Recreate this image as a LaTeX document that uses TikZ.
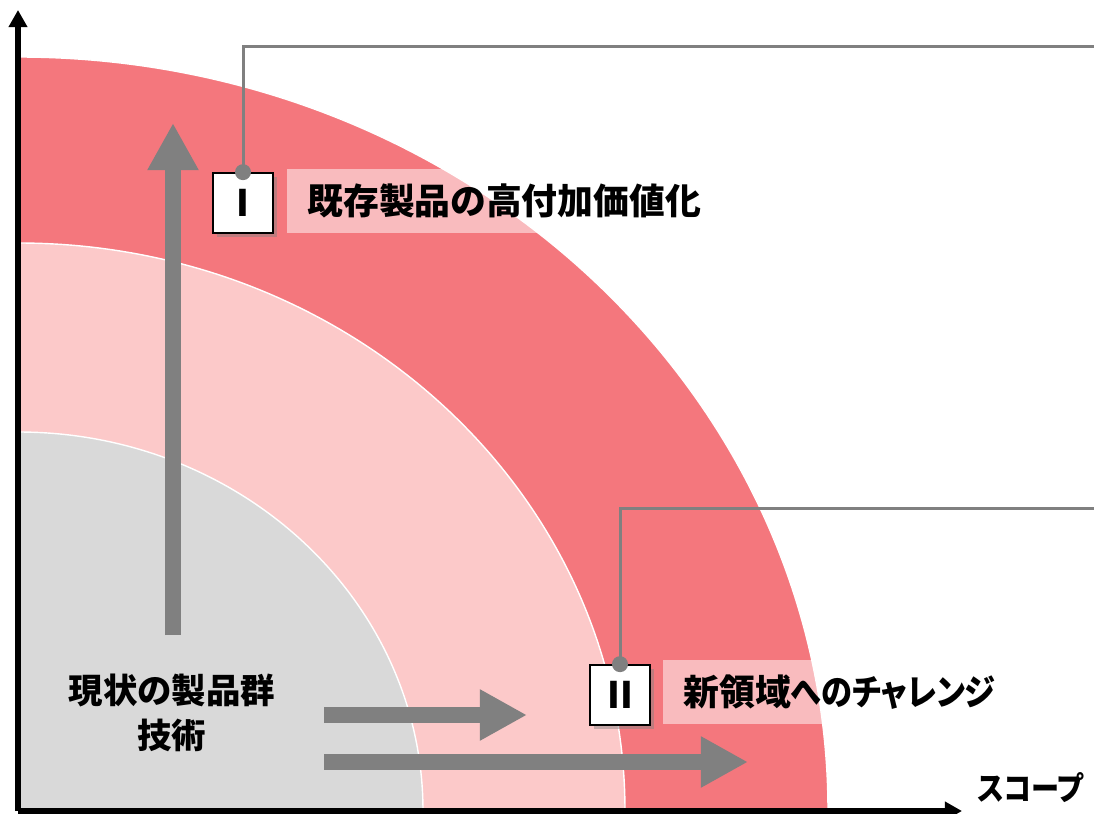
\documentclass[tikz,border=0pt]{standalone}
\usepackage{fontspec}
\setmainfont{Noto Sans CJK JP}[RawFeature=+palt]
\newfontfamily\kanafont{Noto Sans CJK JP}[RawFeature=+palt,FakeStretch=0.87]
\usetikzlibrary{arrows.meta}
\usetikzlibrary{shadows}
\definecolor{ringred}{RGB}{244,119,125}
\definecolor{ringpink}{RGB}{252,201,201}
\definecolor{coregray}{RGB}{217,217,217}
\definecolor{arrgray}{RGB}{128,128,128}

\begin{document}
\begin{tikzpicture}[x=0.025cm,y=-0.025cm,
    ring/.style={draw=white,line width=1pt},
    axis/.style={line width=0.15cm,-{Triangle[length=0.43cm,width=0.45cm]}},
    big arrow/.style={draw=arrgray,line width=0.38cm,-{Triangle[length=1.18cm,width=1.2cm]}},
    num box/.style={draw=black,line width=1.2pt,fill=white,minimum size=1.5cm,inner sep=0pt,
      drop shadow={shadow xshift=0.1cm,shadow yshift=-0.1cm,opacity=0.45},font=\bfseries\fontsize{26}{26}\selectfont},
    leader/.style={draw=arrgray,line width=0.075cm},
    label node/.style={fill=white,fill opacity=0.5,text opacity=1,anchor=west,inner xsep=0.5cm,inner ysep=0pt,
      minimum height=1.6cm,font=\bfseries\fontsize{25.5}{25.5}\selectfont}]
  \useasboundingbox (0,0) rectangle (1094,814);
  \coordinate (o) at (18,811);
  % rings
  \begin{scope}
    \clip (18,0) rectangle (1094,811);
    \filldraw[ring,fill=ringred] (o) ellipse [x radius=810,y radius=754];
    \filldraw[ring,fill=ringpink] (o) ellipse [x radius=607,y radius=568];
    \filldraw[ring,fill=coregray] (o) ellipse [x radius=405,y radius=379];
  \end{scope}
  % axes
  \coordinate (ytop) at (18,10);
  \coordinate (xend) at (962,811);
  \draw[axis] (o) -- (ytop);
  \draw[axis] (o) -- (xend);
  % growth arrows
  \coordinate (vs) at (173,635);
  \coordinate (vt) at (173,123);
  \coordinate (h1s) at (324,715);
  \coordinate (h1t) at (527,715);
  \coordinate (h2s) at (324,762);
  \coordinate (h2t) at (748,762);
  \draw[big arrow] (vs) -- (vt);
  \draw[big arrow] (h1s) -- (h1t);
  \draw[big arrow] (h2s) -- (h2t);
  % callouts
  \coordinate (eI) at (1094,47);
  \coordinate (eII) at (1094,508);
  \node[num box] (bI) at (243,203) {I};
  \node[num box] (bII) at (620,695) {II};
  \draw[leader] (bI.north) |- (eI);
  \draw[leader] (bII.north) |- (eII);
  \fill[arrgray] (bI.north) circle (8);
  \fill[arrgray] (bII.north) circle (8);
  \node[label node] (tI) at (287,201) {既存製品の高付加価値化};
  \node[label node] (tII) at (663,692) {新領域{\kanafont\bfseries へのチャレンジ}};
  % texts
  \node[font=\bfseries\fontsize{24.5}{32}\selectfont,align=center] (core) at (172,713) {現状の製品群\\技術};
  \node[font=\kanafont\bfseries\fontsize{23}{23}\selectfont] (scope) at (1031,788) {スコープ};
\end{tikzpicture}
\end{document}
